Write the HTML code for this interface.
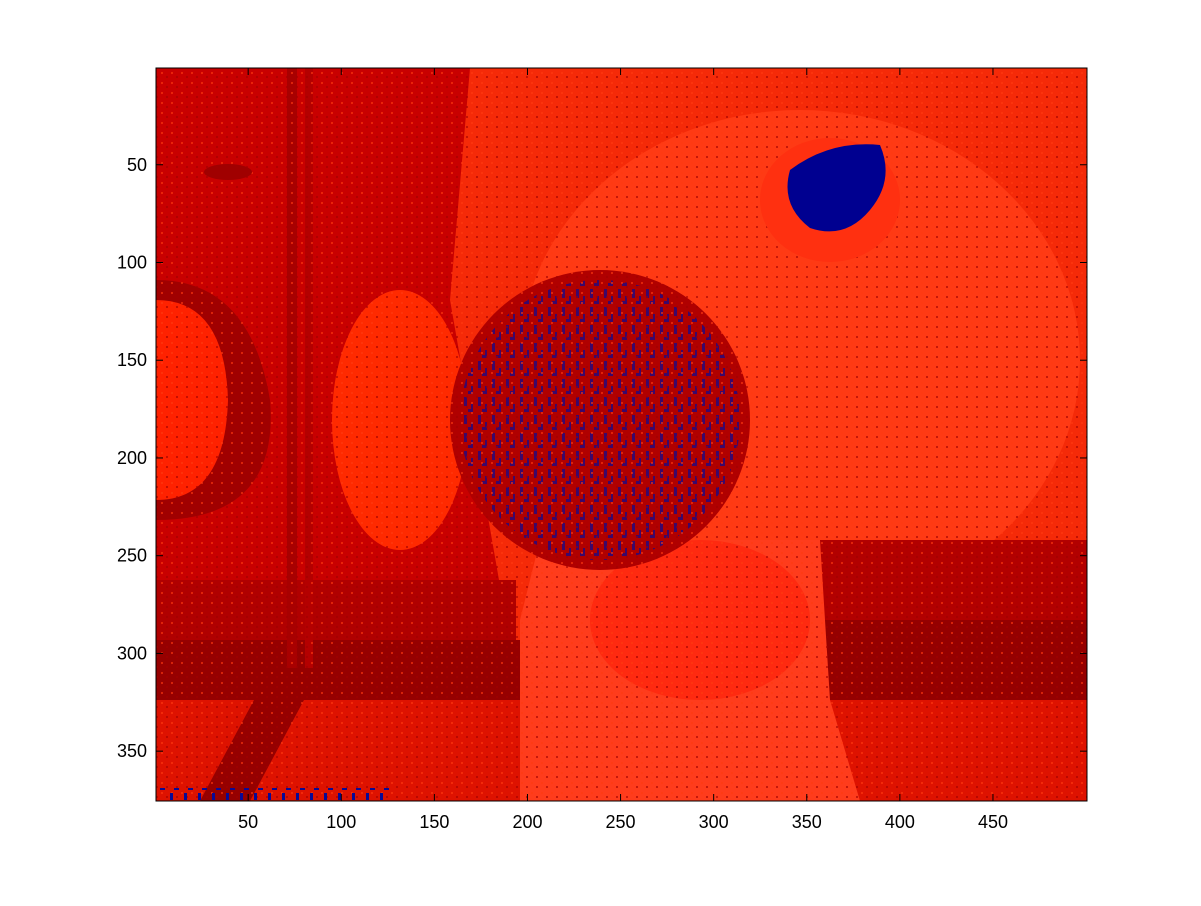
<!DOCTYPE html>
<html><head><meta charset="utf-8"><style>
body{margin:0;background:#fff;width:1201px;height:901px;overflow:hidden;font-family:"Liberation Sans",sans-serif}
</style></head><body>
<svg id="chart" width="1201" height="901" xmlns="http://www.w3.org/2000/svg">
<defs>
<clipPath id="plotclip"><rect x="156" y="68" width="931" height="733"/></clipPath>
<pattern id="speck" width="14" height="18" patternUnits="userSpaceOnUse">
<rect x="2" y="1" width="3" height="9" fill="#0a0a96"/>
<rect x="9" y="8" width="2" height="8" fill="#0a0a96"/>
<rect x="6" y="13" width="3" height="3" fill="#0a0a96"/>
</pattern>
<pattern id="noise" width="10" height="10" patternUnits="userSpaceOnUse">
<rect x="1" y="2" width="2" height="2" fill="#ff3a10" opacity="0.6"/>
<rect x="6" y="6" width="2" height="2" fill="#a00000" opacity="0.6"/>
</pattern>
</defs>
<g clip-path="url(#plotclip)">
<rect x="156" y="68" width="931" height="733" fill="#c80000"/>
<path d="M470 68 L1087 68 L1087 560 L820 560 L820 700 L520 700 L450 300 Z" fill="#f52a08"/>
<ellipse cx="800" cy="360" rx="280" ry="250" fill="#ff3a14"/>
<rect x="820" y="540" width="267" height="160" fill="#b20000"/>
<rect x="820" y="620" width="267" height="80" fill="#950000"/>
<rect x="156" y="700" width="931" height="101" fill="#de1200"/>
<rect x="156" y="640" width="380" height="60" fill="#960000"/>
<rect x="156" y="580" width="360" height="60" fill="#b00000"/>
<path d="M270 670 L320 670 L250 801 L200 801 Z" fill="#960000"/>
<rect x="287" y="68" width="10" height="600" fill="#a80000"/>
<rect x="305" y="68" width="8" height="600" fill="#b40000"/>
<path d="M156 280 Q250 280 270 400 Q280 520 156 520 Z" fill="#a00000"/>
<path d="M156 300 Q225 300 228 400 Q225 500 156 500 Z" fill="#ff2200"/>
<path d="M540 540 L820 540 L830 700 L860 801 L520 801 L520 620 Z" fill="#ff3c1c"/>
<ellipse cx="700" cy="620" rx="110" ry="80" fill="#ff2a10"/>
<ellipse cx="400" cy="420" rx="68" ry="130" fill="#ff2a00"/>
<ellipse cx="600" cy="420" rx="150" ry="150" fill="#b00000"/>
<ellipse cx="600" cy="420" rx="140" ry="140" fill="url(#speck)" opacity="0.7"/>
<rect x="156" y="68" width="931" height="733" fill="url(#noise)"/>
<ellipse cx="830" cy="200" rx="70" ry="62" fill="#ff3010"/>
<path d="M790 170 Q830 140 880 145 Q895 180 870 210 Q845 240 810 228 Q780 205 790 170 Z" fill="#000090"/>
<ellipse cx="228" cy="172" rx="24" ry="8" fill="#a00000"/>
<rect x="160" y="788" width="230" height="12" fill="url(#speck)"/>
</g>
<rect x="156" y="68" width="931" height="733" fill="none" stroke="#000" stroke-width="1"/>
<g id="xt"></g>
<g id="yt"></g>
</svg>
<script>
const xTicks=[50,100,150,200,250,300,350,400,450];
const yTicks=[50,100,150,200,250,300,350];
const xMin=0.5,xMax=500.5,yMin=0.5,yMax=375.5;
const L=156,R=1087,T=68,B=801;
const sx=v=>L+(v-xMin)/(xMax-xMin)*(R-L);
const sy=v=>T+(v-yMin)/(yMax-yMin)*(B-T);
const NS="http://www.w3.org/2000/svg";
const xg=document.getElementById('xt'),yg=document.getElementById('yt');
function mk(t,a){const e=document.createElementNS(NS,t);for(const k in a)e.setAttribute(k,a[k]);return e;}
xTicks.forEach(v=>{
 const x=sx(v);
 const l1=mk('line',{x1:x,x2:x,y1:B,y2:B-7,stroke:'#000'});
 
 
 xg.appendChild(l1);
 const l2=mk('line',{x1:x,x2:x,y1:T,y2:T+7,stroke:'#000'});
 
 
 xg.appendChild(l2);
 const t=mk('text',{x:x,y:B+27,'text-anchor':'middle','font-size':'18'});
 
 
 t.textContent=v;xg.appendChild(t);
});
yTicks.forEach(v=>{
 const y=sy(v);
 const l1=mk('line',{x1:L,x2:L+7,y1:y,y2:y,stroke:'#000'});
 
 
 yg.appendChild(l1);
 const l2=mk('line',{x1:R,x2:R-7,y1:y,y2:y,stroke:'#000'});
 
 
 yg.appendChild(l2);
 const t=mk('text',{x:L-9,y:y+6,'text-anchor':'end','font-size':'18'});
 
 
 t.textContent=v;yg.appendChild(t);
});
</script>
</body></html>
